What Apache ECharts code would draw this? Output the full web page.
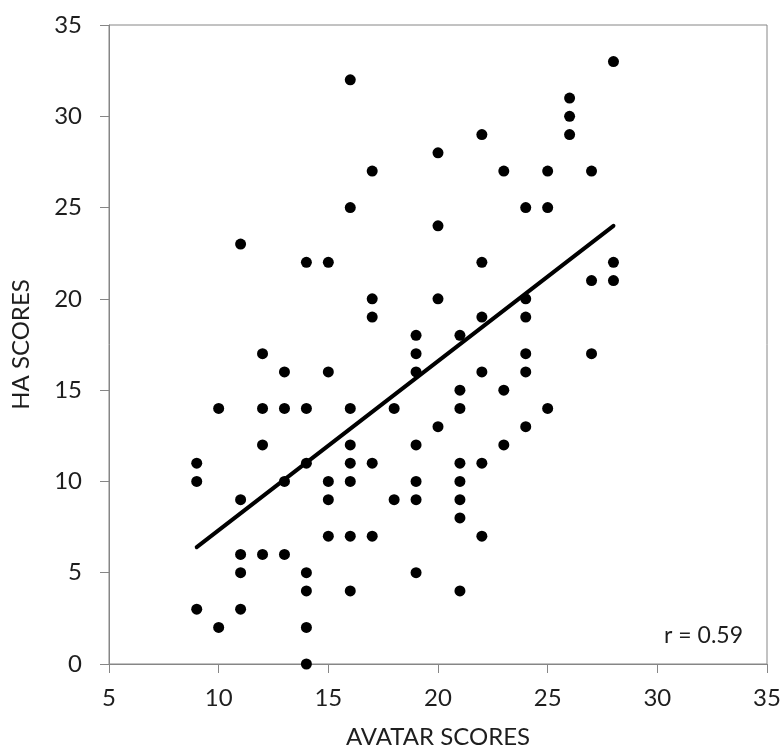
<!DOCTYPE html>
<html>
<head>
<meta charset="utf-8">
<script src="https://cdn.jsdelivr.net/npm/echarts@6/dist/echarts.min.js"></script>
<style>
  html,body{margin:0;padding:0;background:#fff;}
  #main{width:783px;height:748px;}
</style>
</head>
<body>
<div id="main"></div>
<script>
// avatar score / HA score pairs, read column by column
var avatarScores = [
  9,9,9, 10,10, 11,11,11,11,11, 12,12,12,12, 13,13,13,13,
  14,14,14,14,14,14,14, 15,15,15,15,15, 16,16,16,16,16,16,16,16,
  17,17,17,17,17, 18,18, 19,19,19,19,19,19,19, 20,20,20,20,
  21,21,21,21,21,21,21,21, 22,22,22,22,22,22, 23,23,23,
  24,24,24,24,24,24, 25,25,25, 26,26,26, 27,27,27, 28,28,28
];
var haScores = [
  11,10,3, 14,2, 23,9,6,5,3, 17,14,12,6, 16,14,10,6,
  22,14,11,5,4,2,0, 22,16,10,9,7, 32,25,14,12,11,10,7,4,
  27,20,19,11,7, 14,9, 18,17,16,12,10,9,5, 28,24,20,13,
  18,15,14,11,10,9,8,4, 29,22,19,16,11,7, 27,15,12,
  25,20,19,17,16,13, 27,25,14, 31,30,29, 27,21,17, 33,22,21
];
// fitted line end points
var trendX = [9, 28];
var trendY = [6.4, 24.0];
var rLabel = 'r = 0.59';

var points = [];
for (var i = 0; i < avatarScores.length; i++) {
  points.push([avatarScores[i], haScores[i]]);
}
var trend = [];
for (var j = 0; j < trendX.length; j++) {
  trend.push([trendX[j], trendY[j]]);
}

var axisGray = '#868686';
var textCol = '#1e1e1e';
var font = 'Lato, "Open Sans", sans-serif';

var chart = echarts.init(document.getElementById('main'));
chart.setOption({
  animation: false,
  grid: {
    left: 109, right: 16, top: 25, bottom: 84,
    outerBoundsMode: 'none',
    show: true, borderColor: axisGray, borderWidth: 1
  },
  xAxis: {
    type: 'value', min: 5, max: 35, interval: 5,
    name: 'AVATAR SCORES', nameLocation: 'middle', nameGap: 61,
    nameTextStyle: {color: textCol, fontSize: 24, fontFamily: font},
    axisLine: {show: true, lineStyle: {color: axisGray, width: 1}},
    axisTick: {show: true, length: 9, lineStyle: {color: axisGray}},
    axisLabel: {color: textCol, fontSize: 24, fontFamily: font, margin: 22},
    splitLine: {show: false}
  },
  yAxis: {
    type: 'value', min: 0, max: 35, interval: 5,
    name: 'HA SCORES', nameLocation: 'middle', nameGap: 76,
    nameTextStyle: {color: textCol, fontSize: 24, fontFamily: font},
    axisLine: {show: true, lineStyle: {color: axisGray, width: 1}},
    axisTick: {show: true, length: 9, lineStyle: {color: axisGray}},
    axisLabel: {color: textCol, fontSize: 24, fontFamily: font, margin: 27},
    splitLine: {show: false}
  },
  series: [
    {
      type: 'scatter',
      symbol: 'circle',
      symbolSize: 11,
      itemStyle: {color: '#000', opacity: 1},
      data: points,
      z: 3
    },
    {
      type: 'line',
      data: trend,
      symbol: 'none',
      lineStyle: {color: '#000', width: 4, cap: 'round'},
      z: 4
    }
  ],
  graphic: [
    {
      type: 'text',
      right: 40, top: 624,
      style: {text: rLabel, fill: textCol, fontSize: 23, fontFamily: font}
    }
  ]
});
</script>
</body>
</html>
